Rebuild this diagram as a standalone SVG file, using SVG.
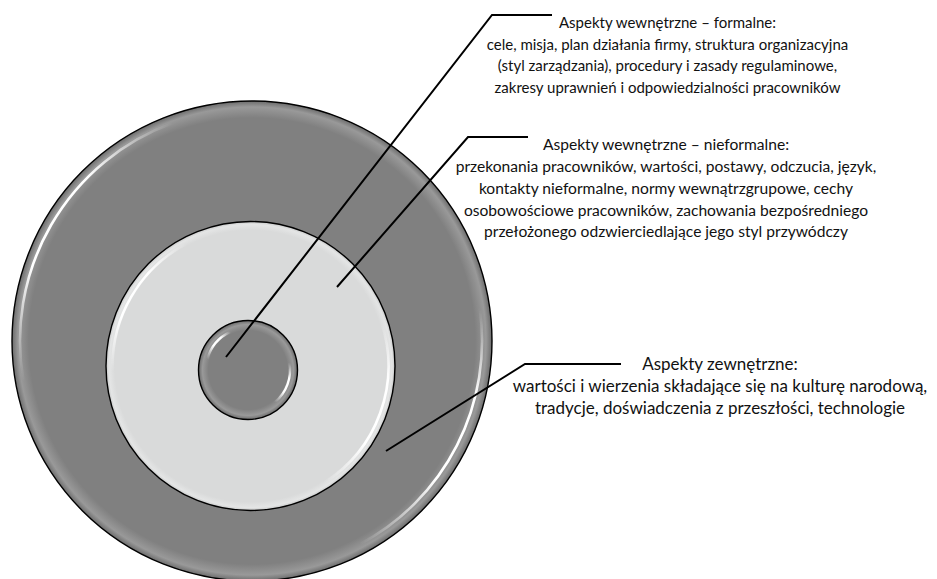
<svg xmlns="http://www.w3.org/2000/svg" width="937" height="579" viewBox="0 0 937 579">
<style>
.ring{stroke:#000;stroke-width:1.4}
.hl{fill:none;stroke-linecap:round;filter:url(#blur)}
.conn{fill:none;stroke:#000;stroke-width:2;stroke-linejoin:miter}
text{font-family:Lato,"Open Sans","Liberation Sans",sans-serif;fill:#111;text-anchor:middle}
.t1{font-size:15px}
.t2{font-size:15.6px}
.t3{font-size:17px}
</style>
<defs>
<filter id="blur" x="-20%" y="-20%" width="140%" height="140%"><feGaussianBlur stdDeviation="0.6"/></filter>
<radialGradient id="gDark" cx="0.5" cy="0.5" r="0.5">
<stop offset="0" stop-color="#808080"/><stop offset="0.93" stop-color="#808080"/><stop offset="0.975" stop-color="#999999"/><stop offset="1" stop-color="#6c6c6c"/>
</radialGradient>
<radialGradient id="gSmall" cx="0.5" cy="0.5" r="0.5">
<stop offset="0" stop-color="#808080"/><stop offset="0.8" stop-color="#808080"/><stop offset="0.92" stop-color="#999999"/><stop offset="1" stop-color="#6a6a6a"/>
</radialGradient>
<radialGradient id="gLight" cx="0.5" cy="0.5" r="0.5">
<stop offset="0" stop-color="#d9dada"/><stop offset="0.94" stop-color="#d9dada"/><stop offset="0.98" stop-color="#e4e5e5"/><stop offset="1" stop-color="#c6c7c7"/>
</radialGradient>
<linearGradient id="h1" gradientUnits="userSpaceOnUse" x1="23.5" y1="381.3" x2="172.7" y2="123"><stop offset="0" stop-color="#fff" stop-opacity="0"/><stop offset="0.35" stop-color="#fff"/><stop offset="0.7" stop-color="#fff"/><stop offset="1" stop-color="#fff" stop-opacity="0"/></linearGradient>
<linearGradient id="h2" gradientUnits="userSpaceOnUse" x1="479.8" y1="309" x2="360" y2="544.1"><stop offset="0" stop-color="#fff" stop-opacity="0"/><stop offset="0.3" stop-color="#fff"/><stop offset="0.65" stop-color="#fff"/><stop offset="1" stop-color="#fff" stop-opacity="0"/></linearGradient>
<linearGradient id="h3" gradientUnits="userSpaceOnUse" x1="112.6" y1="370.8" x2="185.7" y2="244.2"><stop offset="0" stop-color="#fff" stop-opacity="0"/><stop offset="0.35" stop-color="#fff"/><stop offset="0.7" stop-color="#fff"/><stop offset="1" stop-color="#fff" stop-opacity="0"/></linearGradient>
<linearGradient id="h4" gradientUnits="userSpaceOnUse" x1="381.7" y1="323.4" x2="323.6" y2="483"><stop offset="0" stop-color="#fff" stop-opacity="0"/><stop offset="0.3" stop-color="#fff"/><stop offset="0.7" stop-color="#fff"/><stop offset="1" stop-color="#fff" stop-opacity="0"/></linearGradient>
<linearGradient id="h5" gradientUnits="userSpaceOnUse" x1="207.4" y1="359.1" x2="230.3" y2="331.9"><stop offset="0" stop-color="#fff" stop-opacity="0"/><stop offset="0.4" stop-color="#fff"/><stop offset="0.7" stop-color="#fff"/><stop offset="1" stop-color="#fff" stop-opacity="0"/></linearGradient>
<linearGradient id="h6" gradientUnits="userSpaceOnUse" x1="289.4" y1="362.7" x2="275" y2="402.2"><stop offset="0" stop-color="#fff" stop-opacity="0"/><stop offset="0.35" stop-color="#fff"/><stop offset="0.7" stop-color="#fff"/><stop offset="1" stop-color="#fff" stop-opacity="0"/></linearGradient>
</defs>
<rect width="937" height="579" fill="#fff"/>
<g id="outer">
<circle class="ring" cx="252" cy="341" r="240" fill="url(#gDark)"/>
<path class="hl" d="M23.5,381.3 A232,232 0 0 1 172.7,123" stroke="url(#h1)" stroke-width="2.6"/>
<path class="hl" d="M479.8,309 A230,230 0 0 1 360,544.1" stroke="url(#h2)" stroke-width="2.6"/>
</g>
<g id="middle">
<circle class="ring" cx="250.5" cy="366" r="144.5" fill="url(#gLight)"/>
<path class="hl" d="M112.6,370.8 A138,138 0 0 1 185.7,244.2" stroke="url(#h3)" stroke-width="2.6"/>
<path class="hl" d="M381.7,323.4 A138,138 0 0 1 323.6,483" stroke="url(#h4)" stroke-width="2.6"/>
</g>
<g id="core">
<circle class="ring" cx="248" cy="370" r="49.5" fill="url(#gSmall)"/>
<path class="hl" d="M207.4,359.1 A42,42 0 0 1 230.3,331.9" stroke="url(#h5)" stroke-width="2.4"/>
<path class="hl" d="M289.4,362.7 A42,42 0 0 1 275,402.2" stroke="url(#h6)" stroke-width="2.4"/>
</g>
<g id="connectors">
<path class="conn" d="M226,357 L492,15 L552,15"/>
<path class="conn" d="M337,287 L468,137 L528,137"/>
<path class="conn" d="M386,451 L525,364 L621,364"/>
</g>
<g id="label-formal" class="t1">
<text x="667.5" y="28">Aspekty wewnętrzne – formalne:</text>
<text x="667.5" y="49.5">cele, misja, plan działania firmy, struktura organizacyjna</text>
<text x="667.5" y="71">(styl zarządzania), procedury i zasady regulaminowe,</text>
<text x="667.5" y="92.5">zakresy uprawnień i odpowiedzialności pracowników</text>
</g>
<g id="label-informal" class="t2">
<text x="666" y="150">Aspekty wewnętrzne – nieformalne:</text>
<text x="666" y="172">przekonania pracowników, wartości, postawy, odczucia, język,</text>
<text x="666" y="194">kontakty nieformalne, normy wewnątrzgrupowe, cechy</text>
<text x="666" y="216">osobowościowe pracowników, zachowania bezpośredniego</text>
<text x="666" y="237">przełożonego odzwierciedlające jego styl przywódczy</text>
</g>
<g id="label-external" class="t3">
<text x="720" y="370">Aspekty zewnętrzne:</text>
<text x="720" y="392">wartości i wierzenia składające się na kulturę narodową,</text>
<text x="720" y="413.5">tradycje, doświadczenia z przeszłości, technologie</text>
</g>
</svg>
